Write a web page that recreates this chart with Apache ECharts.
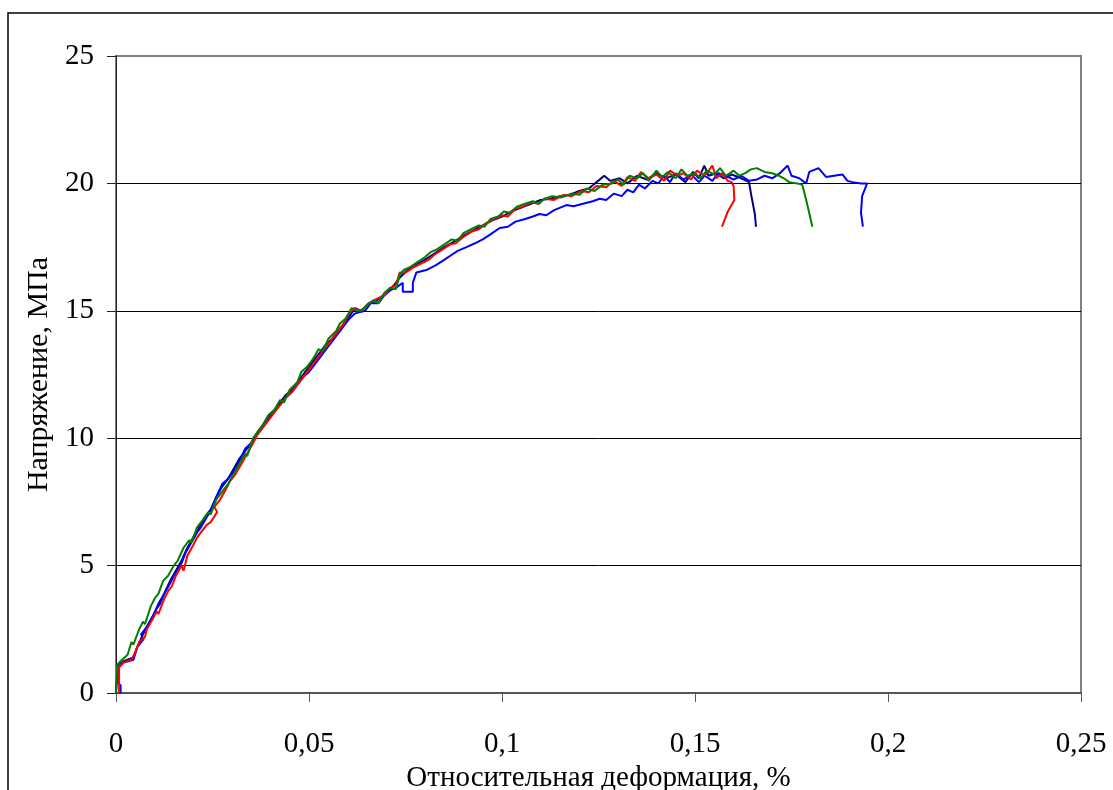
<!DOCTYPE html>
<html>
<head>
<meta charset="utf-8">
<script src="https://cdn.jsdelivr.net/npm/echarts@6/dist/echarts.min.js"></script>
<style>
  html, body { margin: 0; padding: 0; background: #fff; }
  #chart { width: 1113px; height: 790px; }
</style>
</head>
<body>
<div id="chart"></div>
<script>
// strain (relative units), stress (MPa)
const xTicks = [0, 0.05, 0.1, 0.15, 0.2, 0.25];
const yTicks = [0, 5, 10, 15, 20, 25];

const seriesNames = ['Образец 1', 'Образец 2', 'Образец 3', 'Образец 4'];
const seriesColors = ['#000080', '#0000FF', '#FF0000', '#008000'];

const navy = [[0,0],[0.0005,0],[0.0005,1.1],[0.002,1.25],[0.0045,1.4],[0.0055,1.8],[0.007,2.3],[0.008,2.6],[0.0095,3.0],[0.011,3.5],[0.0125,3.9],[0.014,4.4],[0.0155,4.8],[0.017,5.2],[0.0185,5.7],[0.02,6.1],[0.0215,6.5],[0.023,6.9],[0.0245,7.2],[0.026,7.7],[0.0275,8.1],[0.029,8.4],[0.0305,8.8],[0.032,9.2],[0.0335,9.5],[0.035,9.8],[0.0365,10.2],[0.038,10.5],[0.0395,10.9],[0.041,11.1],[0.0425,11.4],[0.044,11.7],[0.0455,11.9],[0.047,12.2],[0.0485,12.5],[0.05,12.8],[0.0515,13.1],[0.053,13.4],[0.0545,13.7],[0.056,13.9],[0.0575,14.2],[0.059,14.5],[0.0605,14.8],[0.062,15.1],[0.0635,15.0],[0.0655,15.3],[0.0675,15.4],[0.07,15.7],[0.072,16.0],[0.0735,16.3],[0.0755,16.6],[0.0775,16.8],[0.08,17.0],[0.0825,17.25],[0.085,17.5],[0.0875,17.7],[0.09,17.95],[0.0925,18.15],[0.095,18.35],[0.0975,18.55],[0.1,18.7],[0.1025,18.9],[0.105,19.05],[0.1075,19.2],[0.11,19.35],[0.1125,19.4],[0.115,19.5],[0.1175,19.55],[0.12,19.7],[0.1225,19.8],[0.1245,20.05],[0.1265,20.3],[0.128,20.1],[0.1305,20.2],[0.1325,20.0],[0.135,20.3],[0.1375,20.15],[0.14,20.4],[0.1425,20.2],[0.145,20.35],[0.1475,20.05],[0.1495,20.45],[0.151,20.2],[0.1524,20.7],[0.1535,20.3],[0.1555,20.4],[0.1575,20.2],[0.1595,20.35],[0.162,20.2],[0.164,20.05],[0.1645,19.6],[0.1655,18.8],[0.1658,18.3]];

const blue = [[0,0],[0.0012,0],[0.0012,0.3],[0.0005,0.4],[0.0005,1.1],[0.002,1.2],[0.0045,1.3],[0.0055,1.8],[0.0071,2.1],[0.0065,2.3],[0.008,2.6],[0.0095,3.0],[0.0105,3.3],[0.0114,3.5],[0.0125,3.9],[0.014,4.3],[0.015,4.6],[0.0162,4.9],[0.017,5.1],[0.018,5.5],[0.0195,5.9],[0.021,6.3],[0.022,6.5],[0.0235,6.9],[0.025,7.3],[0.026,7.7],[0.0275,8.2],[0.029,8.4],[0.0305,8.7],[0.032,9.1],[0.0335,9.6],[0.035,9.8],[0.0365,10.2],[0.038,10.5],[0.0395,10.8],[0.041,11.1],[0.0425,11.3],[0.044,11.6],[0.0455,11.8],[0.047,12.1],[0.0485,12.4],[0.05,12.6],[0.0515,12.9],[0.053,13.2],[0.0545,13.5],[0.056,13.8],[0.0575,14.1],[0.059,14.4],[0.0605,14.7],[0.062,14.9],[0.0645,15.0],[0.066,15.3],[0.068,15.3],[0.0695,15.6],[0.071,15.8],[0.0725,15.9],[0.0743,16.1],[0.0743,15.75],[0.0769,15.75],[0.0769,16.1],[0.0778,16.5],[0.0804,16.6],[0.083,16.8],[0.085,17.0],[0.087,17.2],[0.0885,17.35],[0.0908,17.5],[0.093,17.65],[0.095,17.8],[0.097,18.0],[0.0994,18.25],[0.1015,18.3],[0.1035,18.5],[0.106,18.6],[0.108,18.7],[0.1097,18.8],[0.1115,18.75],[0.1135,18.95],[0.1167,19.15],[0.1185,19.1],[0.121,19.2],[0.1235,19.3],[0.1253,19.4],[0.127,19.35],[0.129,19.6],[0.131,19.5],[0.1325,19.75],[0.134,19.65],[0.1355,19.95],[0.137,19.8],[0.139,20.1],[0.1405,20.0],[0.142,20.3],[0.1435,20.05],[0.145,20.4],[0.147,20.15],[0.149,20.35],[0.151,20.05],[0.1525,20.3],[0.1545,20.1],[0.156,20.4],[0.158,20.3],[0.16,20.15],[0.162,20.3],[0.164,20.1],[0.166,20.15],[0.168,20.3],[0.17,20.2],[0.172,20.4],[0.174,20.7],[0.175,20.3],[0.177,20.2],[0.1788,20.0],[0.1796,20.45],[0.182,20.6],[0.184,20.25],[0.186,20.3],[0.1882,20.35],[0.1895,20.1],[0.1908,20.05],[0.193,20.0],[0.1946,20.0],[0.1951,20.0],[0.1933,19.5],[0.193,18.85],[0.1935,18.3]];

const red = [[0,0],[0.0008,0],[0.0008,1.0],[0.002,1.2],[0.004,1.3],[0.005,1.6],[0.006,2.0],[0.0075,2.2],[0.008,2.5],[0.0095,2.9],[0.0105,3.2],[0.011,3.1],[0.0125,3.7],[0.0135,4.0],[0.0145,4.2],[0.0155,4.6],[0.017,5.0],[0.0175,4.8],[0.0185,5.4],[0.02,5.8],[0.021,6.1],[0.022,6.3],[0.0235,6.6],[0.0245,6.7],[0.0262,7.1],[0.0255,7.3],[0.027,7.6],[0.0285,8.0],[0.0295,8.3],[0.031,8.6],[0.0325,9.0],[0.034,9.4],[0.0355,9.8],[0.0365,10.1],[0.038,10.4],[0.0395,10.7],[0.041,11.0],[0.0425,11.3],[0.044,11.6],[0.0455,11.8],[0.047,12.1],[0.0485,12.4],[0.05,12.7],[0.0515,13.0],[0.053,13.3],[0.0545,13.6],[0.056,13.9],[0.0575,14.2],[0.059,14.5],[0.0605,14.9],[0.0615,15.1],[0.0635,15.0],[0.065,15.2],[0.0665,15.4],[0.068,15.5],[0.0695,15.6],[0.071,15.9],[0.0725,16.0],[0.0735,16.5],[0.075,16.5],[0.077,16.7],[0.079,16.85],[0.081,17.0],[0.0825,17.2],[0.0845,17.4],[0.0865,17.6],[0.088,17.65],[0.09,17.9],[0.092,18.1],[0.094,18.2],[0.096,18.45],[0.098,18.6],[0.1,18.75],[0.1015,18.7],[0.1035,19.0],[0.1055,19.1],[0.1075,19.25],[0.1095,19.2],[0.111,19.4],[0.1135,19.35],[0.116,19.55],[0.118,19.5],[0.1205,19.7],[0.1225,19.65],[0.1245,19.9],[0.127,19.85],[0.129,20.1],[0.131,19.9],[0.1325,20.25],[0.1345,20.1],[0.136,20.45],[0.138,20.2],[0.14,20.35],[0.142,20.1],[0.1435,20.5],[0.1455,20.3],[0.147,20.4],[0.149,20.15],[0.1505,20.5],[0.1525,20.3],[0.1545,20.7],[0.1555,20.2],[0.157,20.4],[0.1585,20.1],[0.1595,20.05],[0.16,19.9],[0.1602,19.35],[0.1585,18.9],[0.157,18.3]];

const green = [[0,0],[0.0003,0],[0.0003,1.1],[0.0015,1.3],[0.003,1.5],[0.004,2.0],[0.0045,1.9],[0.006,2.5],[0.007,2.8],[0.0075,2.7],[0.009,3.4],[0.01,3.7],[0.011,3.9],[0.0122,4.4],[0.0135,4.6],[0.015,5.0],[0.016,5.2],[0.0175,5.7],[0.019,6.0],[0.0195,5.9],[0.021,6.5],[0.0225,6.8],[0.024,7.1],[0.0245,7.0],[0.026,7.6],[0.028,8.0],[0.029,8.2],[0.0305,8.6],[0.032,9.0],[0.0335,9.4],[0.034,9.3],[0.0355,10.0],[0.037,10.3],[0.038,10.5],[0.0395,10.9],[0.041,11.1],[0.0425,11.5],[0.0435,11.4],[0.045,11.9],[0.047,12.2],[0.048,12.6],[0.0495,12.8],[0.051,13.1],[0.0525,13.5],[0.0535,13.4],[0.055,13.9],[0.057,14.2],[0.058,14.5],[0.0595,14.7],[0.061,15.1],[0.0625,15.0],[0.064,15.05],[0.0655,15.3],[0.067,15.4],[0.068,15.3],[0.0695,15.7],[0.071,15.9],[0.0725,15.85],[0.0735,16.4],[0.0745,16.6],[0.076,16.7],[0.078,16.9],[0.08,17.1],[0.0815,17.3],[0.083,17.4],[0.085,17.6],[0.087,17.8],[0.0885,17.75],[0.09,18.05],[0.092,18.2],[0.094,18.35],[0.0955,18.3],[0.097,18.6],[0.099,18.7],[0.1005,18.9],[0.102,18.85],[0.104,19.1],[0.106,19.2],[0.108,19.3],[0.1095,19.2],[0.111,19.4],[0.113,19.5],[0.1155,19.45],[0.118,19.6],[0.12,19.55],[0.122,19.8],[0.124,19.7],[0.126,19.95],[0.1285,20.0],[0.13,20.15],[0.1315,19.95],[0.133,20.3],[0.135,20.2],[0.1365,20.4],[0.138,20.1],[0.14,20.5],[0.1415,20.25],[0.143,20.45],[0.145,20.2],[0.1465,20.55],[0.148,20.3],[0.15,20.4],[0.1515,20.2],[0.153,20.5],[0.155,20.35],[0.1565,20.6],[0.158,20.3],[0.16,20.5],[0.1615,20.3],[0.163,20.4],[0.1645,20.55],[0.166,20.6],[0.168,20.45],[0.17,20.4],[0.1718,20.3],[0.173,20.2],[0.1744,20.05],[0.1765,20.0],[0.1778,19.95],[0.1788,19.35],[0.1795,18.9],[0.1804,18.3]];

const allData = [navy, blue, red, green];

const FONT = '"Liberation Serif", "Times New Roman", serif';

let chart = echarts.init(document.getElementById('chart'));
chart.setOption({
    animation: false,
    backgroundColor: '#fff',
    graphic: [{
        type: 'rect',
        shape: {x: 8, y: 13, width: 1200, height: 900},
        style: {fill: 'none', stroke: '#000', lineWidth: 1.5},
        silent: true
    }],
    grid: {
        left: 116,
        top: 56,
        right: 32,
        bottom: 97,
        outerBoundsMode: 'none',
        containLabel: false,
        show: true,
        borderColor: '#808080',
        borderWidth: 2
    },
    xAxis: {
        type: 'value',
        min: xTicks[0],
        max: xTicks[xTicks.length - 1],
        interval: 0.05,
        name: 'Относительная деформация, %',
        nameLocation: 'middle',
        nameGap: 64,
        nameTextStyle: {fontFamily: FONT, fontSize: 29, color: '#000'},
        axisLine: {lineStyle: {color: '#555', width: 2}},
        axisTick: {show: true, length: 9, lineStyle: {color: '#555', width: 1}},
        axisLabel: {
            fontFamily: FONT, fontSize: 29, color: '#000', margin: 37,
            formatter: function (v) { return String(+v.toFixed(2)).replace('.', ','); }
        },
        splitLine: {show: false}
    },
    yAxis: {
        type: 'value',
        min: yTicks[0],
        max: yTicks[yTicks.length - 1],
        interval: 5,
        name: 'Напряжение, МПа',
        nameLocation: 'middle',
        nameGap: 60,
        nameRotate: 90,
        nameTextStyle: {fontFamily: FONT, fontSize: 30, color: '#000'},
        axisLine: {show: true, lineStyle: {color: '#222', width: 1}},
        axisTick: {show: true, length: 9, lineStyle: {color: '#222', width: 1}},
        axisLabel: {fontFamily: FONT, fontSize: 29, color: '#000', margin: 22},
        splitLine: {show: true, showMinLine: false, showMaxLine: false, lineStyle: {color: '#000', width: 1}}
    },
    series: allData.map(function (d, i) {
        return {
            name: seriesNames[i],
            type: 'line',
            data: d,
            showSymbol: false,
            symbol: 'none',
            lineStyle: {color: seriesColors[i], width: 2},
            itemStyle: {color: seriesColors[i]}
        };
    })
});
</script>
</body>
</html>
